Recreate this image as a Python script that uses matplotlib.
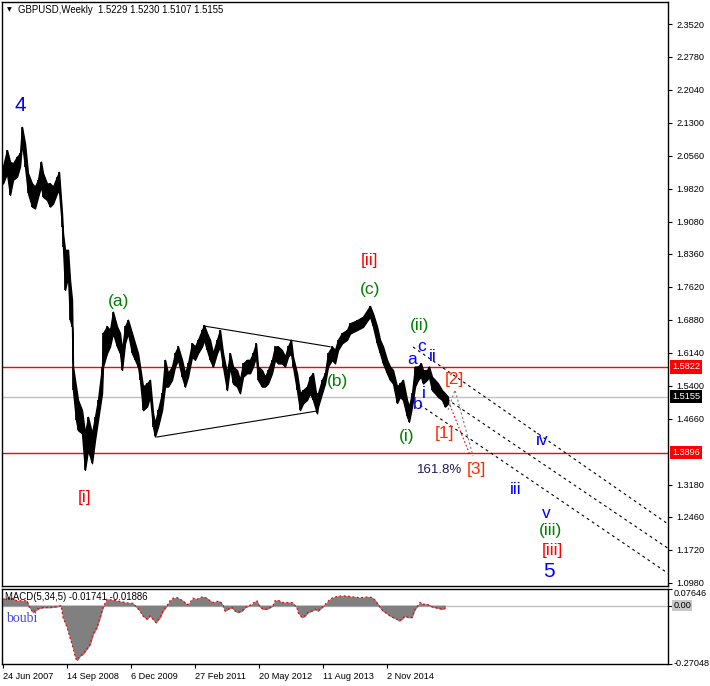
import matplotlib
matplotlib.use('Agg')
import matplotlib.pyplot as plt
import matplotlib.transforms as mtrans

# ---------------- data (weekly bars, week index from 24 Jun 2007) ----------------
weeks = [0, 4, 7, 10, 14, 17, 19, 22, 25, 29, 32, 35, 38, 40, 44, 47, 50, 54, 56, 59,
         60, 62, 65, 67, 69, 70, 73, 75, 79, 82, 85, 89, 92, 95, 99, 100, 104, 107, 110,
         114, 117, 119, 122, 125, 129, 132, 135, 137, 140, 144, 147, 150, 152, 155, 159,
         162, 165, 169, 172, 175, 179, 182, 185, 189, 192, 195, 199, 201, 204, 207, 210,
         214, 217, 220, 224, 227, 230, 234, 237, 240, 244, 247, 250, 253, 255, 259, 262,
         265, 269, 272, 275, 279, 282, 285, 288, 290, 294, 297, 300, 304, 307, 310, 314,
         315, 319, 322, 325, 329, 332, 335, 339, 344, 347, 354, 360, 367, 370, 374, 377,
         380, 384, 387, 390, 394, 397, 400, 404, 406, 409, 412, 415, 418, 420, 424, 426,
         429, 432, 435, 439, 442, 445]
highs = [2.032, 2.069, 2.043, 2.039, 2.054, 2.062, 2.121, 2.084, 2.017, 1.994, 1.987, 2.002,
         2.043, 2.017, 1.994, 1.994, 1.987, 2.009, 2.020, 1.927, 1.882, 1.845, 1.845, 1.777,
         1.732, 1.583, 1.538, 1.508, 1.485, 1.433, 1.470, 1.433, 1.470, 1.508, 1.583, 1.658,
         1.673, 1.665, 1.706, 1.673, 1.658, 1.620, 1.673, 1.688, 1.658, 1.635, 1.613, 1.583,
         1.538, 1.545, 1.553, 1.478, 1.456, 1.485, 1.523, 1.598, 1.568, 1.583, 1.613, 1.628,
         1.598, 1.568, 1.590, 1.635, 1.628, 1.643, 1.665, 1.676, 1.658, 1.643, 1.613, 1.643,
         1.665, 1.613, 1.568, 1.613, 1.583, 1.575, 1.553, 1.590, 1.598, 1.598, 1.613, 1.635,
         1.583, 1.575, 1.560, 1.575, 1.598, 1.628, 1.628, 1.620, 1.605, 1.628, 1.643, 1.605,
         1.568, 1.523, 1.530, 1.538, 1.560, 1.568, 1.508, 1.523, 1.553, 1.568, 1.613, 1.628,
         1.620, 1.643, 1.658, 1.665, 1.680, 1.687, 1.695, 1.719, 1.702, 1.673, 1.643, 1.628,
         1.598, 1.583, 1.575, 1.538, 1.545, 1.553, 1.508, 1.493, 1.523, 1.583, 1.583, 1.590,
         1.575, 1.575, 1.583, 1.560, 1.553, 1.545, 1.530, 1.523, 1.515]
lows = [1.994, 2.017, 1.968, 2.002, 2.009, 2.032, 2.084, 2.032, 1.972, 1.942, 1.938, 1.964,
        1.987, 1.964, 1.957, 1.942, 1.949, 1.972, 1.979, 1.897, 1.852, 1.755, 1.785, 1.688,
        1.672, 1.530, 1.463, 1.440, 1.433, 1.351, 1.396, 1.366, 1.418, 1.463, 1.523, 1.583,
        1.613, 1.628, 1.658, 1.628, 1.613, 1.575, 1.635, 1.658, 1.613, 1.598, 1.583, 1.553,
        1.485, 1.493, 1.515, 1.448, 1.426, 1.448, 1.485, 1.538, 1.538, 1.553, 1.583, 1.598,
        1.560, 1.538, 1.560, 1.605, 1.598, 1.613, 1.628, 1.643, 1.620, 1.598, 1.583, 1.613,
        1.628, 1.583, 1.530, 1.583, 1.545, 1.538, 1.523, 1.560, 1.568, 1.568, 1.583, 1.605,
        1.553, 1.538, 1.538, 1.545, 1.568, 1.598, 1.590, 1.590, 1.583, 1.605, 1.613, 1.583,
        1.530, 1.485, 1.500, 1.508, 1.523, 1.508, 1.478, 1.493, 1.523, 1.545, 1.583, 1.598,
        1.590, 1.620, 1.635, 1.643, 1.657, 1.665, 1.672, 1.695, 1.673, 1.635, 1.613, 1.590,
        1.568, 1.553, 1.545, 1.501, 1.515, 1.508, 1.471, 1.459, 1.493, 1.538, 1.553, 1.560,
        1.545, 1.553, 1.560, 1.530, 1.523, 1.515, 1.508, 1.493, 1.500]

macd_weeks = [0, 7, 14, 24, 26, 30, 35, 40, 47, 54, 58, 60, 64, 67, 70, 73, 74, 77, 80, 84,
              87, 90, 94, 97, 100, 104, 110, 117, 124, 130, 134, 137, 140, 144, 147, 150,
              153, 157, 160, 164, 167, 170, 174, 177, 180, 184, 187, 190, 194, 197, 200,
              204, 207, 210, 214, 217, 220, 222, 225, 229, 232, 235, 239, 242, 245, 249,
              252, 254, 255, 257, 260, 264, 267, 270, 272, 275, 279, 282, 285, 289, 292,
              294, 295, 299, 302, 305, 309, 312, 315, 319, 321, 324, 327, 330, 335, 340,
              345, 350, 355, 360, 365, 369, 372, 375, 377, 380, 384, 387, 390, 394, 396,
              399, 402, 405, 409, 410, 412, 415, 417, 420, 424, 427, 429, 432, 435, 439, 442]
macd_vals = [0.029, 0.037, 0.022, 0.022, -0.005, -0.032, -0.015, -0.009, -0.009, -0.005,
             0.0, -0.055, -0.100, -0.148, -0.194, -0.248, -0.253, -0.233, -0.225, -0.200,
             -0.180, -0.133, -0.100, -0.055, -0.009, 0.029, 0.025, 0.019, 0.012, 0.010,
             -0.010, -0.025, -0.048, -0.063, -0.048, -0.063, -0.079, -0.055, -0.025, 0.0,
             0.022, 0.034, 0.037, 0.029, 0.022, 0.003, 0.014, 0.034, 0.029, 0.037, 0.040,
             0.034, 0.022, 0.014, 0.019, 0.019, 0.0, -0.025, -0.017, -0.009, -0.025, -0.032,
             -0.025, -0.009, -0.003, 0.006, 0.018, 0.022, 0.009, -0.006, -0.017, -0.017,
             -0.009, 0.0, 0.022, 0.025, 0.014, 0.014, 0.014, 0.014, 0.0, -0.009, -0.032,
             -0.055, -0.048, -0.032, -0.025, -0.017, -0.025, -0.009, 0.0, 0.014, 0.029,
             0.037, 0.043, 0.045, 0.043, 0.040, 0.037, 0.037, 0.040, 0.037, 0.025, 0.006,
             -0.009, -0.025, -0.037, -0.048, -0.055, -0.063, -0.071, -0.063, -0.048, -0.055,
             -0.055, -0.040, -0.017, 0.0, 0.014, 0.006, 0.006, 0.0, -0.006, -0.009, -0.012,
             -0.017, -0.012]

date_ticks = [0, 64, 128, 192, 256, 320, 384]
date_labels = ['24 Jun 2007', '14 Sep 2008', '6 Dec 2009', '27 Feb 2011',
               '20 May 2012', '11 Aug 2013', '2 Nov 2014']
price_ticks = [2.3520, 2.2780, 2.2040, 2.1300, 2.0560, 1.9820, 1.9080, 1.8360, 1.7620,
               1.6880, 1.6140, 1.5400, 1.4660, 1.3180, 1.2460, 1.1720, 1.0980]
level_red = [1.5822, 1.3896]
level_last = 1.5155

# wave labels: text, week, price, colour, size
wave_labels = [
    ('4', 17, 2.170, '#0000ff', 15), ('5', 546, 1.122, '#0000ff', 15),
    ('(a)', 116, 1.730, '#008000', 12.5), ('[i]', 82, 1.288, '#ff0000', 12.5),
    ('[ii]', 366, 1.822, '#ff0000', 12.5), ('(c)', 367, 1.755, '#008000', 12.5),
    ('(b)', 335, 1.549, '#008000', 12.5), ('(ii)', 417, 1.676, '#008000', 12.5),
    ('a', 409, 1.598, '#0000ff', 12.5), ('c', 419, 1.628, '#0000ff', 12.5),
    ('ii', 430, 1.605, '#0000ff', 12.5), ('b', 415, 1.497, '#0000ff', 12.5),
    ('i', 421, 1.523, '#0000ff', 12.5), ('[2]', 451, 1.553, '#ff2a00', 12.5),
    ('[1]', 441, 1.433, '#ff2a00', 12.5), ('(i)', 404, 1.427, '#008000', 12.5),
    ('161.8%', 437, 1.351, '#1c1c5a', 9.5), ('[3]', 473, 1.352, '#ff2a00', 12.5),
    ('iv', 539, 1.416, '#0000ff', 12.5), ('iii', 513, 1.306, '#0000ff', 12.5),
    ('v', 543, 1.2535, '#0000ff', 12.5), ('(iii)', 548, 1.2145, '#008000', 12.5),
    ('[iii]', 549, 1.171, '#ff0000', 12.5),
]
channel_lines = [((410, 1.6269), (665, 1.2295)),
                 ((429, 1.5326), (665, 1.1749)),
                 ((417, 1.4967), (665, 1.1188))]
triangle_lines = [((201, 1.6740), (327, 1.6275)),
                  ((154, 1.4248), (314, 1.4832))]
fib_gray = [(445, 1.4854), (452, 1.5303), (470, 1.3822)]
fib_red = [(444, 1.5124), (467, 1.3844)]

# ---------------- layout ----------------
W, H = 710, 686
fig = plt.figure(figsize=(W / 100, H / 100), dpi=100)
fig.patch.set_facecolor('white')


def rect(l, t, r, b):
    return [l / W, 1 - b / H, (r - l) / W, (b - t) / H]


ax = fig.add_axes(rect(2, 2, 668, 586))
axm = fig.add_axes(rect(2, 589, 668, 664))
SANS = 'Liberation Sans'
TICKFS = 6.6

for a in (ax, axm):
    for s in a.spines.values():
        s.set_color('black')
        s.set_linewidth(1)
    a.set_xlim(-1, 665)

# ---------------- price panel ----------------
ax.set_ylim(1.0903, 2.4014)
for lv in level_red:
    ax.axhline(lv, color='red', lw=1, zorder=1)
ax.axhline(level_last, color='#c0c0c0', lw=1, zorder=1)

ax.fill_between(weeks, lows, highs, color='black', lw=1.0, zorder=3)
ax.vlines(weeks, lows, highs, color='black', lw=1.2, zorder=3)

for (x0, y0), (x1, y1) in triangle_lines:
    ax.plot([x0, x1], [y0, y1], color='black', lw=0.8, zorder=2)
for (x0, y0), (x1, y1) in channel_lines:
    ax.plot([x0, x1], [y0, y1], color='black', lw=0.8, ls=(0, (2.5, 3)), zorder=2)
ax.plot([p[0] for p in fib_gray], [p[1] for p in fib_gray], color='#808080', lw=0.8,
        ls=(0, (2, 2)), zorder=2)
ax.plot([p[0] for p in fib_red], [p[1] for p in fib_red], color='red', lw=0.8,
        ls=(0, (1.5, 2)), zorder=2)

for txt, wx, py, col, fs in wave_labels:
    ax.text(wx, py, txt, color=col, fontsize=fs, family=SANS, ha='center', va='center',
            zorder=5)

ax.yaxis.tick_right()
ax.set_yticks(price_ticks)
ax.set_yticklabels(['%.4f' % v for v in price_ticks])
ax.tick_params(axis='y', direction='out', length=3, width=0.8, pad=3,
               labelsize=TICKFS, colors='black')
for lab in ax.get_yticklabels():
    lab.set_family(SANS)
ax.set_xticks([])

btr = mtrans.blended_transform_factory(ax.transAxes, ax.transData)
for lv in level_red:
    ax.text(1.006, lv, '%.4f' % lv, transform=btr, ha='left', va='center', color='white',
            fontsize=TICKFS, family=SANS,
            bbox=dict(facecolor='red', edgecolor='none', pad=1.6), zorder=6, clip_on=False)
ax.text(1.006, level_last, '%.4f' % level_last, transform=btr, ha='left', va='center',
        color='white', fontsize=TICKFS, family=SANS,
        bbox=dict(facecolor='black', edgecolor='none', pad=1.6), zorder=6, clip_on=False)

fig.text(7 / W, 1 - 10 / H, '\u25bc', fontsize=4.5, family='DejaVu Sans', va='center',
         ha='left', color='black')
fig.text(18 / W, 1 - 10 / H, 'GBPUSD,Weekly  1.5229 1.5230 1.5107 1.5155',
         fontsize=TICKFS + 0.3, family=SANS, va='center', ha='left', color='black')

# ---------------- MACD panel ----------------
axm.set_ylim(-0.27048, 0.07646)
axm.axhline(0, color='#c0c0c0', lw=1, zorder=1)
axm.fill_between(macd_weeks, 0, macd_vals, color='#808080', lw=0.6, edgecolor='#808080',
                 zorder=2)
axm.plot(macd_weeks, macd_vals, color='red', lw=0.9, ls=(0, (1.5, 2)), zorder=3)

axm.yaxis.tick_right()
axm.set_yticks([0.07646, 0.0, -0.27048])
axm.set_yticklabels([])
axm.tick_params(axis='y', direction='out', length=3, width=0.8)
btm = mtrans.blended_transform_factory(axm.transAxes, axm.transData)
axm.text(1.008, 0.07646, '0.07646', transform=btm, ha='left', va='top', fontsize=TICKFS,
         family=SANS, clip_on=False)
axm.text(1.008, 0.0, '0.00', transform=btm, ha='left', va='center', fontsize=TICKFS,
         family=SANS, clip_on=False,
         bbox=dict(facecolor='#c8c8c8', edgecolor='none', pad=0.8))
axm.text(1.008, -0.27048, '-0.27048', transform=btm, ha='left', va='center',
         fontsize=TICKFS, family=SANS, clip_on=False)

axm.set_xticks(date_ticks)
axm.set_xticklabels(date_labels)
axm.tick_params(axis='x', direction='out', length=3, width=0.8, pad=3, labelsize=TICKFS)
for lab in axm.get_xticklabels():
    lab.set_family(SANS)
    lab.set_ha('left')

fig.text(5 / W, 1 - 597 / H, 'MACD(5,34,5) -0.01741 -0.01886', fontsize=TICKFS + 0.3,
         family=SANS, va='center', ha='left', color='black')
fig.text(6 / W, 1 - 619 / H, 'boubi', fontsize=10, family='Liberation Serif',
         va='center', ha='left', color='#4b4bdd')

fig.savefig('out.png', dpi=100, facecolor='white')
